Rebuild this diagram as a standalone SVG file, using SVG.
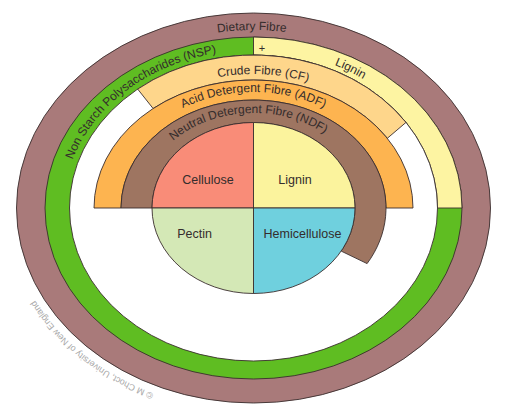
<svg xmlns="http://www.w3.org/2000/svg" width="505" height="414" viewBox="0 0 505 414">
<style>
.ol{stroke:#3a2e2e;stroke-width:0.9}
.lbl{font-family:"Liberation Sans",Arial,sans-serif;fill:#342c2c}
.band{font-size:12px}
.pie{font-size:12.5px;text-anchor:middle}
.copy{font-family:"Liberation Sans",Arial,sans-serif;font-size:9px;fill:#a8a8a8}
</style>
<defs>
<path id="pDietary" d="M112.6,72.6 A217,178 0 0 1 391.5,70.7"/>
<path id="pNSP" d="M63.6,202.5 A190,158 0 0 1 260.1,50.1"/>
<path id="pLignin" d="M273.4,50.9 A190,158 0 0 1 411,119.6"/>
<path id="pCF" d="M158.2,100 A161,134 0 0 1 364.7,111.1"/>
<path id="pADF" d="M155.2,126 A139,116 0 0 1 351.8,126"/>
<path id="pNDF" d="M162.1,151.2 A114,95 0 0 1 336.5,142.8"/>
<path id="pCopy" d="M193.2,404.7 A245,203 0 0 1 17.7,263.1"/>
</defs>
<rect width="505" height="414" fill="#ffffff"/>

<g id="dietary-fibre">
<ellipse class="ol" cx="253.5" cy="208" rx="237" ry="195" fill="#a97a7a"/>
<text class="lbl band" font-size="12.5"><textPath href="#pDietary" startOffset="50%" text-anchor="middle">Dietary Fibre</textPath></text>
</g>

<g id="nsp">
<ellipse class="ol" cx="253.5" cy="208" rx="208.5" ry="171" fill="#5fbd22"/>
<text class="lbl band"><textPath href="#pNSP" startOffset="50%" text-anchor="middle">Non Starch Polysaccharides (NSP)</textPath></text>
</g>

<g id="lignin-ring">
<path class="ol" d="M253.5,37 A208.5,171 0 0 1 462,208 L437.5,208 A184,153 0 0 0 253.5,55 Z" fill="#fdf4a2"/>
<text class="lbl band"><textPath href="#pLignin" startOffset="50%" text-anchor="middle">Lignin</textPath></text>
<text class="lbl" x="262" y="52" font-size="11" text-anchor="middle">+</text>
</g>

<g id="inner-space">
<ellipse class="ol" cx="253.5" cy="208" rx="184" ry="153" fill="#ffffff"/>
</g>

<g id="crude-fibre">
<path class="ol" d="M137.7,89.1 A184,153 0 0 1 406,122.4 L387.3,138.3 A159.5,128 0 0 0 153.1,108.5 Z" fill="#fed68b"/>
<text class="lbl band"><textPath href="#pCF" startOffset="50%" text-anchor="middle">Crude Fibre (CF)</textPath></text>
</g>

<g id="adf">
<path class="ol" d="M94,208 A159.5,128 0 0 1 413,208 L386,208 A132.5,108 0 0 0 121,208 Z" fill="#fdb450"/>
<text class="lbl band"><textPath href="#pADF" startOffset="50%" text-anchor="middle">Acid Detergent Fibre (ADF)</textPath></text>
</g>

<g id="ndf">
<path class="ol" d="M121,208 A132.5,108 0 1 1 367.1,263.6 L341.2,251.1 A101.5,85.5 0 1 0 152,208 Z" fill="#9e7561"/>
<text class="lbl band"><textPath href="#pNDF" startOffset="50%" text-anchor="middle">Neutral Detergent Fibre (NDF)</textPath></text>
</g>

<g id="cellulose">
<path class="ol" d="M253.5,208 L152,208 A101.5,85.5 0 0 1 253.5,122.5 Z" fill="#f98c78"/>
<text class="lbl pie" x="208" y="184">Cellulose</text>
</g>
<g id="lignin">
<path class="ol" d="M253.5,208 L253.5,122.5 A101.5,85.5 0 0 1 355,208 Z" fill="#fbf39d"/>
<text class="lbl pie" x="295" y="184">Lignin</text>
</g>
<g id="hemicellulose">
<path class="ol" d="M253.5,208 L355,208 A101.5,85.5 0 0 1 253.5,293.5 Z" fill="#6fd0de"/>
<text class="lbl pie" x="302.5" y="238">Hemicellulose</text>
</g>
<g id="pectin">
<path class="ol" d="M253.5,208 L253.5,293.5 A101.5,85.5 0 0 1 152,208 Z" fill="#d4e8b6"/>
<text class="lbl pie" x="194.5" y="238">Pectin</text>
</g>

<g id="connectors"></g>

<text class="copy"><textPath href="#pCopy" startOffset="50%" text-anchor="middle">© M Choct, University of New England</textPath></text>
</svg>
